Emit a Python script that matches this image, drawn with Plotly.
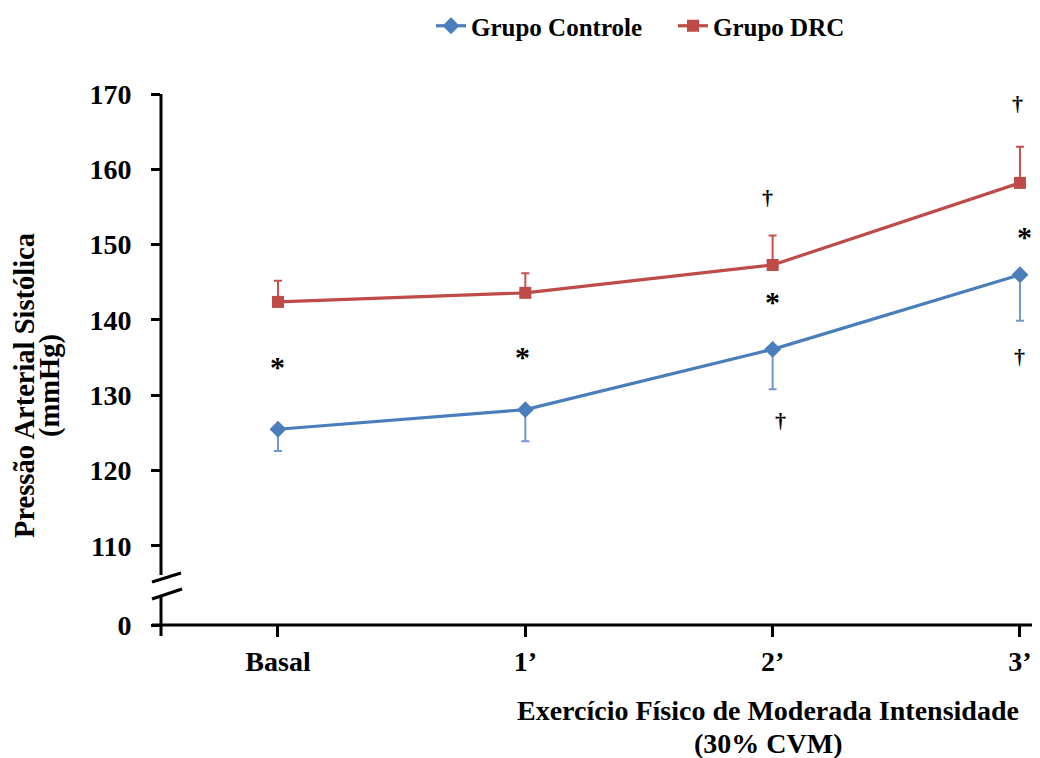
import plotly.graph_objects as go

# ---- data ----
categories = ["Basal", "1’", "2’", "3’"]
x_pos = [0, 1, 2, 3]
controle_mean = [125.5, 128.1, 136.1, 146.0]
controle_sd = [2.9, 4.2, 5.3, 6.1]
drc_mean = [142.4, 143.6, 147.3, 158.2]
drc_sd = [2.8, 2.6, 3.9, 4.8]
zeros = [0, 0, 0, 0]

y_tick_vals = [99.51, 110, 120, 130, 140, 150, 160, 170]
y_tick_text = ["0", "110", "120", "130", "140", "150", "160", "170"]

star_x = [0, 0.99, 2.0, 3.02]
star_y = [133.8, 135.2, 142.4, 151.1]
dagger_x = [1.98, 2.99, 2.03, 3.0]
dagger_y = [156.3, 168.7, 126.6, 135.2]

FONT = "Liberation Serif"
BLUE = "#4A7EBB"
RED = "#BE4B48"

# page body margin offset
OX, OY = 8, 8
# plot area in reference pixels
L, R, T, B = 161, 1040, 94, 625
W, H = 1040, 758


def px(x):
    return (x - L) / (R - L)


def py(y):
    return (B - y) / (B - T)


fig = go.Figure()
fig.add_trace(go.Scatter(
    x=x_pos, y=controle_mean, name="Grupo Controle", mode="lines+markers",
    line=dict(color=BLUE, width=3.2),
    marker=dict(symbol="diamond", size=13, color=BLUE),
    error_y=dict(type="data", symmetric=False, array=zeros, arrayminus=controle_sd,
                 color="#7199CF", thickness=2, width=4),
    cliponaxis=False,
))
fig.add_trace(go.Scatter(
    x=x_pos, y=drc_mean, name="Grupo DRC", mode="lines+markers",
    line=dict(color=RED, width=3.2),
    marker=dict(symbol="square", size=12, color=RED),
    error_y=dict(type="data", symmetric=False, array=drc_sd, arrayminus=zeros,
                 color="#C8504C", thickness=2, width=4),
    cliponaxis=False,
))

annotations = []
for x, y in zip(star_x, star_y):
    annotations.append(dict(x=x, y=y, xref="x", yref="y", text="<b>*</b>", showarrow=False,
                            xanchor="center", yanchor="middle",
                            font=dict(family=FONT, size=30, color="black")))
for x, y in zip(dagger_x, dagger_y):
    annotations.append(dict(x=x, y=y, xref="x", yref="y", text="<b>†</b>", showarrow=False,
                            xanchor="center", yanchor="middle",
                            font=dict(family=FONT, size=22, color="black")))

title_font = dict(family=FONT, size=28.5, color="black", weight="bold")
xtitle_font = dict(family=FONT, size=28, color="black", weight="bold")
annotations += [
    dict(x=px(24), y=py(386), xref="paper", yref="paper", text="Pressão Arterial Sistólica",
         textangle=-90, showarrow=False, xanchor="center", yanchor="middle", font=title_font),
    dict(x=px(50), y=py(386), xref="paper", yref="paper", text="(mmHg)",
         textangle=-90, showarrow=False, xanchor="center", yanchor="middle", font=title_font),
    dict(x=px(768), y=py(710), xref="paper", yref="paper", text="Exercício Físico de Moderada Intensidade",
         showarrow=False, xanchor="center", yanchor="middle", font=xtitle_font),
    dict(x=px(768), y=py(743), xref="paper", yref="paper", text="(30% CVM)",
         showarrow=False, xanchor="center", yanchor="middle", font=xtitle_font),
]

line_style = dict(color="black", width=3)
shapes = [
    # y axis (broken)
    dict(type="line", xref="paper", yref="paper", x0=0, x1=0, y0=py(T), y1=py(575), line=line_style),
    dict(type="line", xref="paper", yref="paper", x0=0, x1=0, y0=py(597), y1=py(636), line=line_style),
    # break marks
    dict(type="line", xref="paper", yref="paper", x0=px(152), x1=px(181), y0=py(582), y1=py(573), line=line_style),
    dict(type="line", xref="paper", yref="paper", x0=px(152), x1=px(182), y0=py(599), y1=py(589), line=line_style),
    # x axis
    dict(type="line", xref="paper", yref="paper", x0=px(152), x1=1, y0=0, y1=0, line=line_style),
]

tick_font = dict(family=FONT, size=28, color="black", weight="bold")
fig.update_layout(
    width=W - OX, height=H - OY,
    margin=dict(l=L - OX, r=W - R, t=T - OY, b=H - B, autoexpand=False),
    paper_bgcolor="white", plot_bgcolor="white",
    showlegend=True,
    legend=dict(orientation="h", x=px(431), y=py(26), xanchor="left", yanchor="middle",
                font=dict(family=FONT, size=25, color="black", weight="bold"),
                bgcolor="rgba(0,0,0,0)", itemwidth=30, tracegroupgap=0,
                entrywidth=197, entrywidthmode="pixels"),
    xaxis=dict(range=[-0.473, 3.081], tickvals=x_pos, ticktext=categories,
               showgrid=False, zeroline=False, showline=False, automargin=False,
               ticks="outside", ticklen=11, tickwidth=2.5, tickcolor="black",
               tickfont=tick_font),
    yaxis=dict(range=[99.51, 170], tickvals=y_tick_vals, ticktext=y_tick_text,
               showgrid=False, zeroline=False, showline=False, automargin=False,
               ticks="outside", ticklen=9, tickwidth=2.5, tickcolor="black",
               ticklabelstandoff=14,
               tickfont=tick_font),
    annotations=annotations,
    shapes=shapes,
)

fig.write_html("out.html")
